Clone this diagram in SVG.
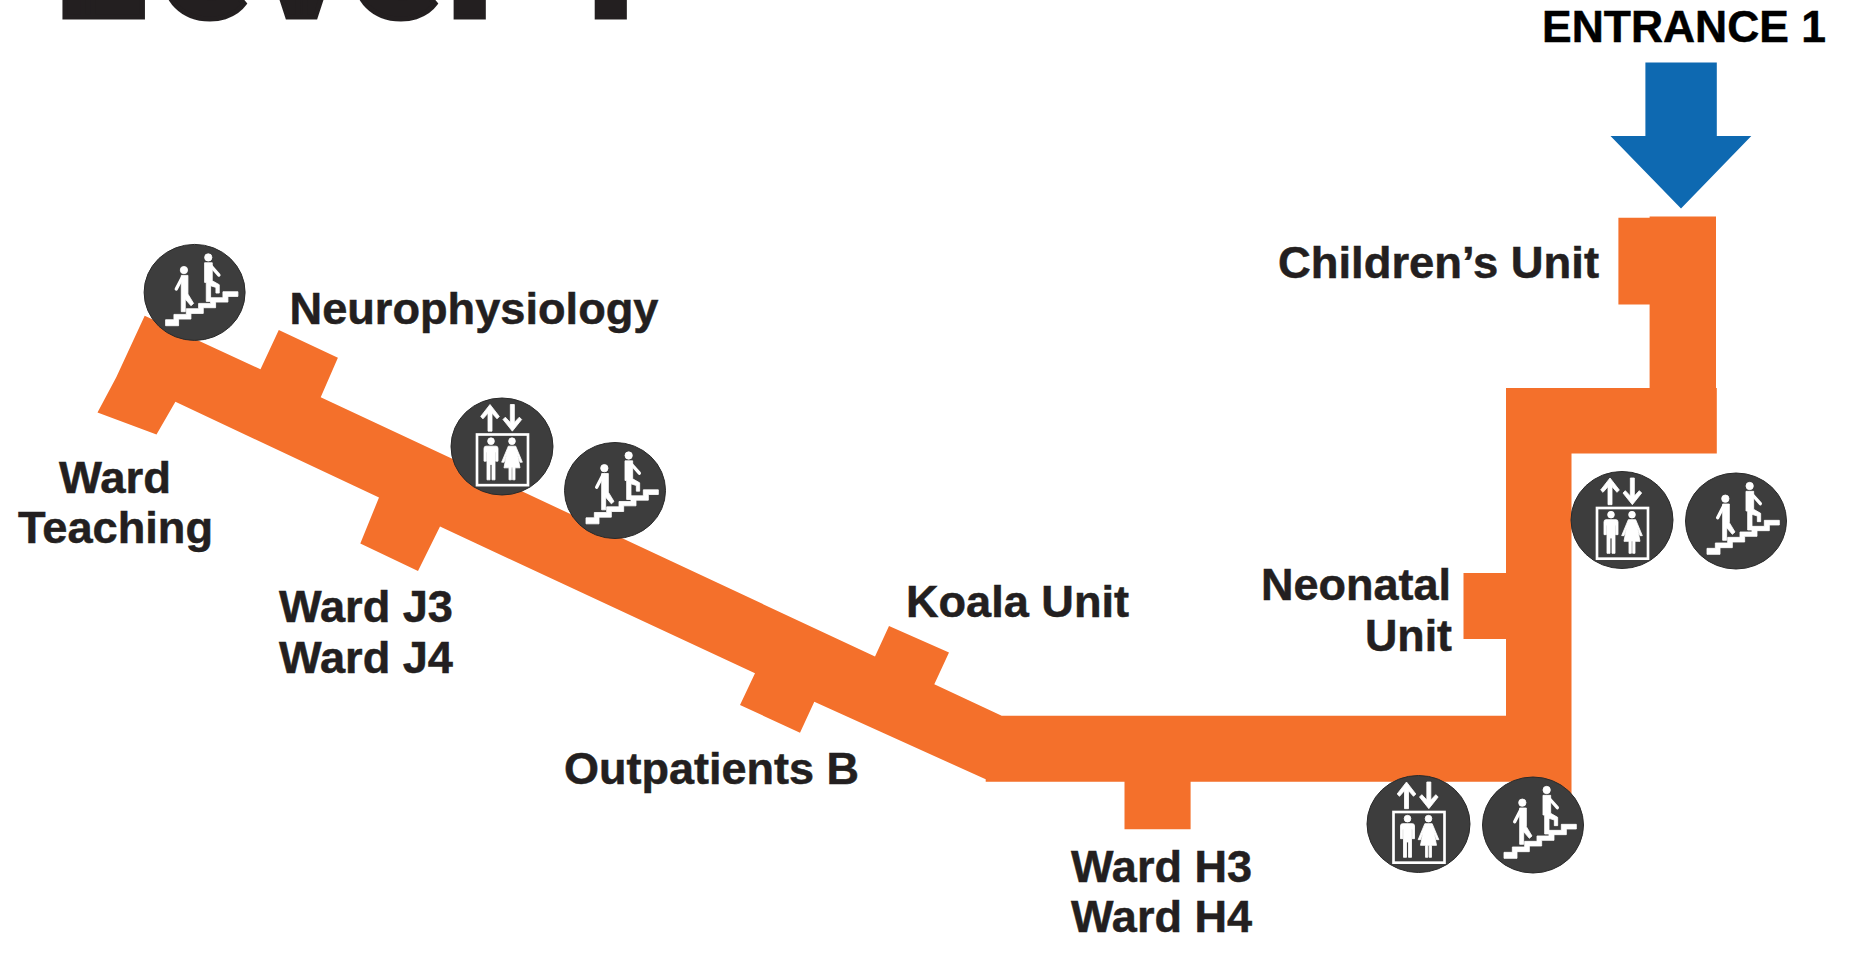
<svg xmlns="http://www.w3.org/2000/svg" xmlns:xlink="http://www.w3.org/1999/xlink" width="1851" height="968" viewBox="0 0 1851 968">
<style>
text{font-family:"Liberation Sans",Arial,sans-serif;font-weight:700;font-size:44px;fill:#231f20;stroke:#231f20;stroke-width:.5px}
.title{font-family:Roboto,"Liberation Sans",sans-serif;font-weight:900;font-size:165px;stroke-width:5px;stroke-linejoin:miter}
.ent{fill:#000;stroke:#000}
.disc{fill:#3d3d3d;stroke:#2a2a2a;stroke-width:1}
.w{fill:#fff;stroke:#fff;stroke-width:2.5}
.l{fill:none;stroke:#fff;stroke-linecap:round;stroke-linejoin:round}
</style>
<defs>
<g id="stairs-glyph" transform="scale(.3333) translate(-190,-170)">
<path class="w" d="M103 252H128V236H165V219H202V203H238V186H275V168H320V182H290V199H253V216H216V233H179V250H142V270H103Z"/>
<circle class="w" cx="158" cy="103" r="11"/>
<circle class="w" cx="231" cy="65" r="11"/>
<path class="w" d="M150 119H170V175L187 203L179 210L162 190V228H150Z"/>
<path class="l" stroke-width="10" d="M153 125L135 160"/>
<path class="w" d="M220 81H243V135L264 147V172H254V155L238 150V197H225V140H220Z"/>
<path class="l" stroke-width="10" d="M240 92L263 118"/>
</g>
<g id="lift-glyph" transform="scale(.3333) translate(-184,-168)">
<path class="w" d="M142 122V68L127 85L120 78L148 42L176 78L169 85L154 68V122Z"/>
<path class="w" d="M209 42H221V96L236 80L243 87L215 122L187 87L194 80L209 96Z"/>
<rect x="109" y="132" width="153" height="152" fill="none" stroke="#fff" stroke-width="8"/>
<circle class="w" cx="151" cy="152" r="10"/>
<path class="w" d="M136 167H166Q172 167 172 174V212H165V185H163V268H154V222H148V268H139V185H137V212H130V174Q130 167 136 167Z"/>
<circle class="w" cx="214" cy="152" r="10"/>
<path class="w" d="M203 167H225L245 215H238L230 190L238 232H223V268H216V232H212V268H205V232H190L198 190L190 215H183Z"/>
</g>
</defs>

<text id="title" class="title" x="56 160 259 351 447 520 557" y="17">Level 1</text>

<g id="corridor">
<polygon fill="#f4702b" points="144.7,315.7 260.5,369.3 278.8,329.9 337.9,357.8 320.7,397.2 875,656.5 889,626 949,652.5 934.3,684.3 1001.7,715.7 1506,715.7 1506,639 1463.5,639 1463.5,573 1506,573 1506,388 1649.6,388 1649.6,304.6 1618.4,304.6 1618.4,217.8 1649.6,217.8 1649.6,216.6 1716,216.6 1716,388 1716.8,388 1716.8,453.5 1571.5,453.5 1571.5,800 1530,800 1530,781.7 1190.6,781.7 1190.6,829.3 1124.5,829.3 1124.5,781.7 985.7,781.7 985.7,779.3 814.3,701.7 800,732.7 740,705 755,673.3 440,526.6 418,571 360.3,543.4 379,497.5 175.4,401.8 156.5,434.4 97.5,412.5 116.4,377"/>
</g>

<g id="entrance-arrow">
<polygon fill="#0e69b1" points="1645.4,62.4 1716.8,62.4 1716.8,135.9 1751.3,135.9 1681,208.6 1610.5,135.9 1645.4,135.9"/>
</g>

<g id="stairs-1" transform="translate(194.6,292.4)"><ellipse class="disc" rx="50.5" ry="48"/><use xlink:href="#stairs-glyph" href="#stairs-glyph"/></g>
<g id="lift-1" transform="translate(502,446.5)"><ellipse class="disc" rx="51" ry="48.5"/><use xlink:href="#lift-glyph" href="#lift-glyph"/></g>
<g id="stairs-2" transform="translate(615,490.5)"><ellipse class="disc" rx="50.5" ry="48"/><use xlink:href="#stairs-glyph" href="#stairs-glyph"/></g>
<g id="lift-2" transform="translate(1622,520)"><ellipse class="disc" rx="51" ry="48.5"/><use xlink:href="#lift-glyph" href="#lift-glyph"/></g>
<g id="stairs-3" transform="translate(1736,521)"><ellipse class="disc" rx="50.5" ry="48"/><use xlink:href="#stairs-glyph" href="#stairs-glyph"/></g>
<g id="lift-3" transform="translate(1418.5,824)"><ellipse class="disc" rx="51.5" ry="48.5"/><use xlink:href="#lift-glyph" href="#lift-glyph"/></g>
<g id="stairs-4" transform="translate(1533,825)"><ellipse class="disc" rx="50.5" ry="48"/><use xlink:href="#stairs-glyph" href="#stairs-glyph"/></g>

<g id="labels">
<text class="ent" x="1542" y="42" textLength="284" lengthAdjust="spacingAndGlyphs">ENTRANCE 1</text>
<text x="1278" y="277.5" textLength="321" lengthAdjust="spacingAndGlyphs">Children’s Unit</text>
<text x="289.5" y="324" textLength="369" lengthAdjust="spacingAndGlyphs">Neurophysiology</text>
<text x="59" y="492.5" textLength="112" lengthAdjust="spacingAndGlyphs">Ward</text>
<text x="18" y="542.5" textLength="195" lengthAdjust="spacingAndGlyphs">Teaching</text>
<text x="279" y="621.7" textLength="174" lengthAdjust="spacingAndGlyphs">Ward J3</text>
<text x="279" y="672.7" textLength="174" lengthAdjust="spacingAndGlyphs">Ward J4</text>
<text x="564" y="784" textLength="295" lengthAdjust="spacingAndGlyphs">Outpatients B</text>
<text x="906" y="617.3" textLength="223" lengthAdjust="spacingAndGlyphs">Koala Unit</text>
<text x="1261" y="600" textLength="190" lengthAdjust="spacingAndGlyphs">Neonatal</text>
<text x="1365" y="650.7" textLength="87" lengthAdjust="spacingAndGlyphs">Unit</text>
<text x="1071" y="881.7" textLength="181" lengthAdjust="spacingAndGlyphs">Ward H3</text>
<text x="1071" y="931.7" textLength="181" lengthAdjust="spacingAndGlyphs">Ward H4</text>
</g>
</svg>
